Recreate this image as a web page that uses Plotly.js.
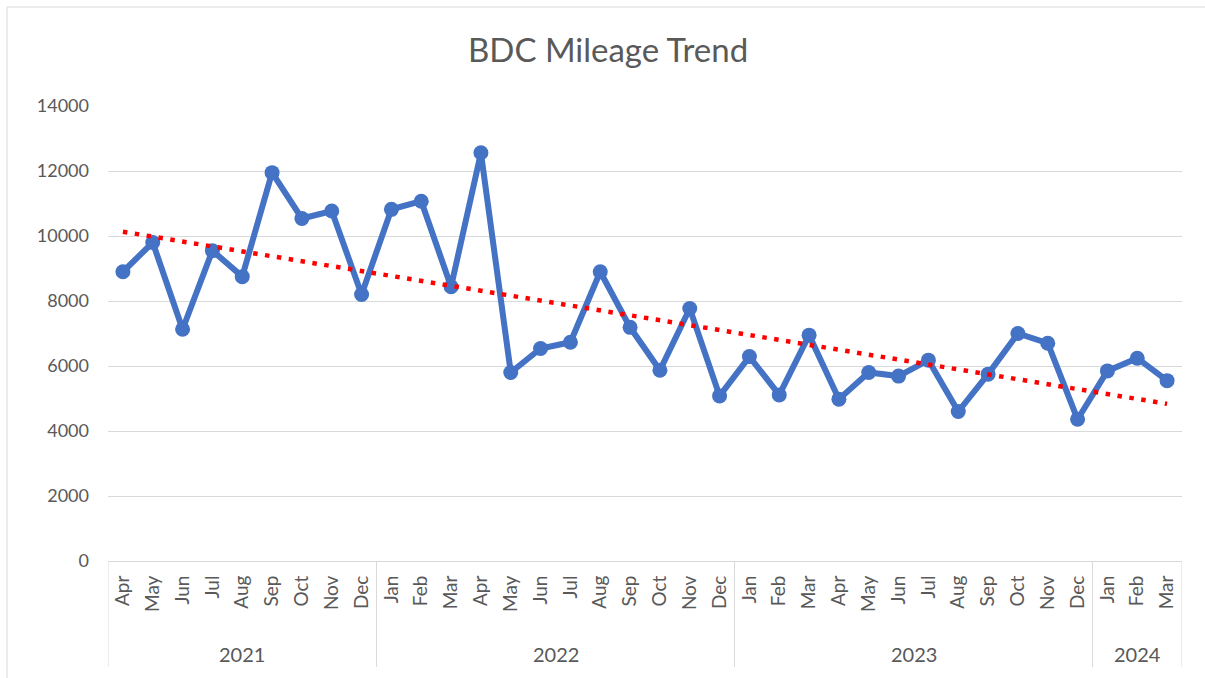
<!DOCTYPE html>
<html>
<head>
<meta charset="utf-8">
<script src="https://cdn.plot.ly/plotly-3.0.1.min.js"></script>
<style>
  html, body { margin: 0; padding: 0; background: #ffffff; }
  #chart { width: 1205px; height: 678px; }
</style>
</head>
<body>
<div id="chart"></div>
<script>
// ---- Data ----
const months = ['Apr','May','Jun','Jul','Aug','Sep','Oct','Nov','Dec',
                'Jan','Feb','Mar','Apr','May','Jun','Jul','Aug','Sep','Oct','Nov','Dec',
                'Jan','Feb','Mar','Apr','May','Jun','Jul','Aug','Sep','Oct','Nov','Dec',
                'Jan','Feb','Mar'];
const years = ['2021','2021','2021','2021','2021','2021','2021','2021','2021',
               '2022','2022','2022','2022','2022','2022','2022','2022','2022','2022','2022','2022',
               '2023','2023','2023','2023','2023','2023','2023','2023','2023','2023','2023','2023',
               '2024','2024','2024'];
const mileage = [8900, 9800, 7130, 9550, 8750, 11950, 10540, 10770, 8200,
                 10820, 11070, 8440, 12560, 5800, 6540, 6730, 8900, 7190, 5870, 7770, 5080,
                 6290, 5110, 6950, 4980, 5800, 5690, 6180, 4600, 5750, 7000, 6700, 4360,
                 5850, 6240, 5550];

// ---- Derived ----
const idx = mileage.map((_, i) => i);
// linear trendline (least squares), like Excel's linear trendline
const n = mileage.length;
const mx = idx.reduce((a, b) => a + b, 0) / n;
const my = mileage.reduce((a, b) => a + b, 0) / n;
let sxy = 0, sxx = 0;
for (let i = 0; i < n; i++) { sxy += (idx[i] - mx) * (mileage[i] - my); sxx += (idx[i] - mx) ** 2; }
const slope = sxy / sxx;
const intercept = my - slope * mx;
const trendX = [0, n - 1];
const trendY = trendX.map(x => intercept + slope * x);

// year groups
const groups = [];
years.forEach((y, i) => {
  if (!groups.length || groups[groups.length - 1].year !== y) groups.push({year: y, start: i, end: i});
  else groups[groups.length - 1].end = i;
});

const FONT = 'Lato, "Open Sans", sans-serif';
const TXT = '#595959';
const GRID = '#d9d9d9';

const shapes = [];
const annotations = [];
const yBottom = -0.233;
groups.forEach((g, k) => {
  shapes.push({type: 'line', xref: 'x', yref: 'paper', x0: g.start - 0.5, x1: g.start - 0.5, y0: 0, y1: yBottom,
               line: {color: GRID, width: 1}});
  if (k === groups.length - 1) {
    shapes.push({type: 'line', xref: 'x', yref: 'paper', x0: g.end + 0.5, x1: g.end + 0.5, y0: 0, y1: yBottom,
                 line: {color: GRID, width: 1}});
  }
  annotations.push({xref: 'x', yref: 'paper', x: (g.start + g.end) / 2, y: -0.2044, yanchor: 'middle',
                    text: g.year, showarrow: false, font: {family: FONT, size: 20, color: TXT}});
});
// chart area border
shapes.push({type: 'rect', xref: 'paper', yref: 'paper', x0: -0.094, x1: 1.2, y0: -0.6, y1: 1.2176,
             line: {color: GRID, width: 1}, fillcolor: 'rgba(0,0,0,0)', layer: 'below'});

const traces = [
  {x: idx, y: mileage, type: 'scatter', mode: 'lines+markers',
   line: {color: '#4472C4', width: 6}, marker: {color: '#4472C4', size: 15},
   hoverinfo: 'y', showlegend: false},
  {x: trendX, y: trendY, type: 'scatter', mode: 'lines',
   line: {color: '#ff0000', width: 4.5, dash: '4.5px,7.5px'}, hoverinfo: 'skip', showlegend: false}
];

const layout = {
  width: 1205, height: 678,
  margin: {l: 108, r: 23, t: 106, b: 117},
  paper_bgcolor: '#ffffff', plot_bgcolor: '#ffffff',
  title: {text: 'BDC Mileage Trend', font: {family: FONT, size: 33, color: TXT},
          xref: 'container', x: 0.5046, xanchor: 'center', yref: 'container', y: 0.925, yanchor: 'middle'},
  xaxis: {range: [-0.5, n - 0.5], tickmode: 'array', tickvals: idx, ticktext: months, tickangle: -90,
          showgrid: false, zeroline: false, showline: true, linecolor: GRID, linewidth: 1, ticks: '',
          tickfont: {family: FONT, size: 19, color: TXT}, ticklabelstandoff: 6, fixedrange: true},
  yaxis: {range: [0, 14000], dtick: 2000, tick0: 0, tickformat: 'd', showgrid: true, gridcolor: GRID, gridwidth: 1,
          zeroline: false, showline: false, ticks: '', tickfont: {family: FONT, size: 18, color: TXT},
          ticklabelstandoff: 18, fixedrange: true},
  shapes: shapes,
  annotations: annotations
};

Plotly.newPlot('chart', traces, layout, {displayModeBar: false, staticPlot: true});
</script>
</body>
</html>
